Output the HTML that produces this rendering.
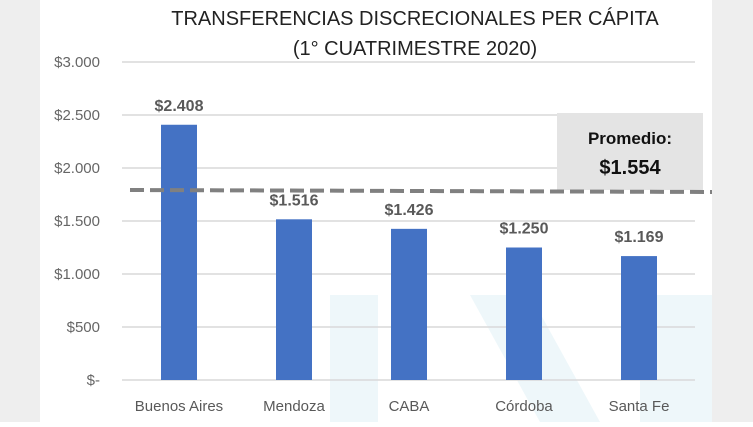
<!DOCTYPE html>
<html><head><meta charset="utf-8"><style>
body{margin:0;width:753px;height:422px;overflow:hidden;background:#fff;font-family:"Liberation Sans",sans-serif}
</style></head><body>
<svg width="753" height="422" xmlns="http://www.w3.org/2000/svg">
<rect x="0" y="0" width="753" height="422" fill="#ffffff"/>
<rect x="0" y="0" width="40" height="422" fill="#eeeeee"/>
<rect x="712" y="0" width="41" height="422" fill="#eeeeee"/>
<g fill="#eef7fa">
<rect x="330" y="295" width="48" height="127"/>
<polygon points="470,295 530,295 600,422 540,422"/>
<rect x="640" y="295" width="72" height="127"/>
</g>
<text x="415" y="25" text-anchor="middle" font-size="20" fill="#222">TRANSFERENCIAS DISCRECIONALES PER CÁPITA</text>
<text x="415" y="55" text-anchor="middle" font-size="20" fill="#222">(1° CUATRIMESTRE 2020)</text>
<g id="grid"></g><g id="bars"></g>
<rect x="557" y="113" width="146" height="77" fill="#e4e4e4"/>
<text x="630" y="144" text-anchor="middle" font-size="17" font-weight="bold" fill="#111">Promedio:</text>
<text x="630" y="174" text-anchor="middle" font-size="20" font-weight="bold" fill="#111">$1.554</text>
<line x1="130" y1="190" x2="712" y2="192" stroke="#808080" stroke-width="4" stroke-dasharray="14,6"/>
</svg>
<script>
const categories=["Buenos Aires","Mendoza","CABA","Córdoba","Santa Fe"];
const values=[2408,1516,1426,1250,1169];
const valueLabels=["$2.408","$1.516","$1.426","$1.250","$1.169"];
const ticks=[0,500,1000,1500,2000,2500,3000];
const tickLabels=["$-","$500","$1.000","$1.500","$2.000","$2.500","$3.000"];
const NS="http://www.w3.org/2000/svg";
const y=v=>380-v*(318/3000);
const x=i=>179+i*115;
const g=document.getElementById('grid'),b=document.getElementById('bars');
function mk(tag,attrs,p,txt){const e=document.createElementNS(NS,tag);for(const k in attrs)e.setAttribute(k,attrs[k]);if(txt!==undefined)e.textContent=txt;p.appendChild(e);return e;}
ticks.forEach((t,i)=>{
 const l=mk('line',{x1:122,x2:695,y1:y(t),y2:y(t),stroke:'#d9d9d9','stroke-width':1.5},g);
 
 
 const tx=mk('text',{x:100,y:y(t)+5,'text-anchor':'end','font-size':15,fill:'#666'},g,tickLabels[i]);
 
 
});
categories.forEach((c,i)=>{
 const r=mk('rect',{x:x(i)-18,y:y(values[i]),width:36,height:380-y(values[i]),fill:'#4472c4'},b);
 
 
 const v=mk('text',{x:x(i),y:y(values[i])-14,'text-anchor':'middle','font-size':16,'font-weight':'bold',fill:'#595959'},b,valueLabels[i]);
 
 
 const cl=mk('text',{x:x(i),y:411,'text-anchor':'middle','font-size':15,fill:'#595959'},b,c);
 
 
});
</script>
</body></html>
